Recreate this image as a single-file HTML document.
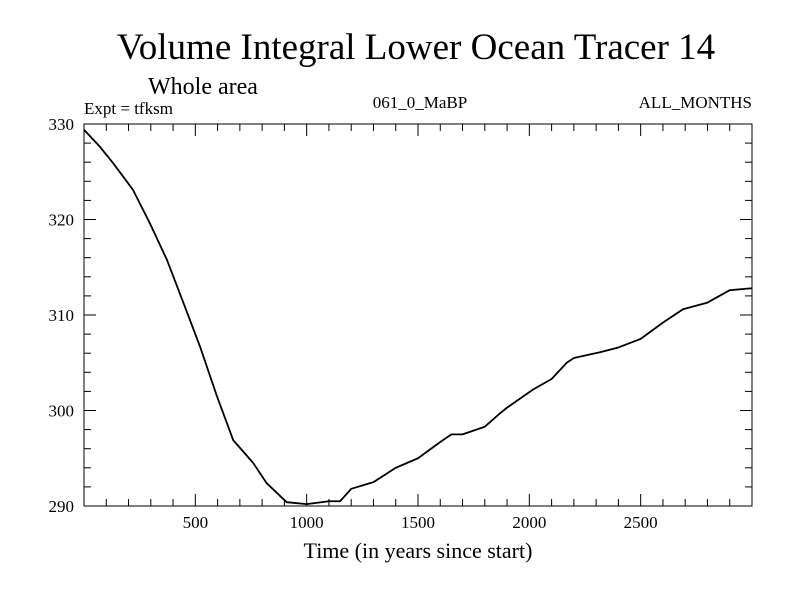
<!DOCTYPE html>
<html><head><meta charset="utf-8"><style>
body{margin:0;background:#fff}
svg text{font-family:"Liberation Serif",serif;fill:#000}
</style></head><body>
<svg width="800" height="600">
<text x="416" y="59" font-size="37" text-anchor="middle">Volume Integral Lower Ocean Tracer 14</text>
<text x="148" y="94" font-size="24">Whole area</text>
<text x="84" y="114" font-size="17">Expt = tfksm</text>
<text x="420" y="108" font-size="17" text-anchor="middle">061_0_MaBP</text>
<text x="752" y="108" font-size="17" text-anchor="end">ALL_MONTHS</text>
<g id="axes"></g>
<text x="418" y="558" font-size="22" text-anchor="middle">Time (in years since start)</text>
</svg>
<script>
const years=[0,72,131,220,296,372,446,521,597,670,760,820,910,1000,1100,1150,1200,1300,1400,1500,1600,1650,1700,1800,1868,1900,2017,2100,2168,2200,2317,2400,2500,2600,2690,2800,2900,3000];
const values=[329.4,327.6,325.9,323.1,319.6,315.8,311.3,306.7,301.5,296.9,294.5,292.4,290.4,290.2,290.5,290.5,291.8,292.5,294,295,296.7,297.5,297.5,298.3,299.7,300.3,302.2,303.3,305,305.5,306.1,306.6,307.5,309.2,310.6,311.3,312.6,312.8];
const xTicks=[500,1000,1500,2000,2500];
const yTicks=[290,300,310,320,330];
const L=84,R=752,T=124,B=506,x0=0,x1=3000,y0=290,y1=330;
const X=v=>L+(v-x0)/(x1-x0)*(R-L);
const Y=v=>B-(v-y0)/(y1-y0)*(B-T);
const NS="http://www.w3.org/2000/svg";
const g=document.getElementById('axes');
function mk(t,a){const e=document.createElementNS(NS,t);for(const k in a)e.setAttribute(k,a[k]);g.appendChild(e);return e;}
const fr=mk('rect',{x:L,y:T,width:R-L,height:B-T,fill:'none',stroke:'#000','stroke-width':1});


for(let v=100;v<x1;v+=100){const big=v%500===0,l=big?12:7;
mk('line',{x1:X(v),x2:X(v),y1:B,y2:B-l,stroke:'#000'});mk('line',{x1:X(v),x2:X(v),y1:T,y2:T+l,stroke:'#000'});}
for(let v=292;v<y1;v+=2){const big=v%10===0,l=big?12:7;
mk('line',{x1:L,x2:L+l,y1:Y(v),y2:Y(v),stroke:'#000'});mk('line',{x1:R,x2:R-l,y1:Y(v),y2:Y(v),stroke:'#000'});}
xTicks.forEach(v=>{const t=mk('text',{x:X(v),y:B+22,'font-size':17,'text-anchor':'middle'});t.textContent=v;

});
yTicks.forEach(v=>{const t=mk('text',{x:L-10,y:Y(v)+6,'font-size':17,'text-anchor':'end'});t.textContent=v;

});
const p=mk('polyline',{points:years.map((y,i)=>X(y)+','+Y(values[i])).join(' '),fill:'none',stroke:'#000','stroke-width':1.8,'stroke-linejoin':'round'});


</script>
</body></html>
